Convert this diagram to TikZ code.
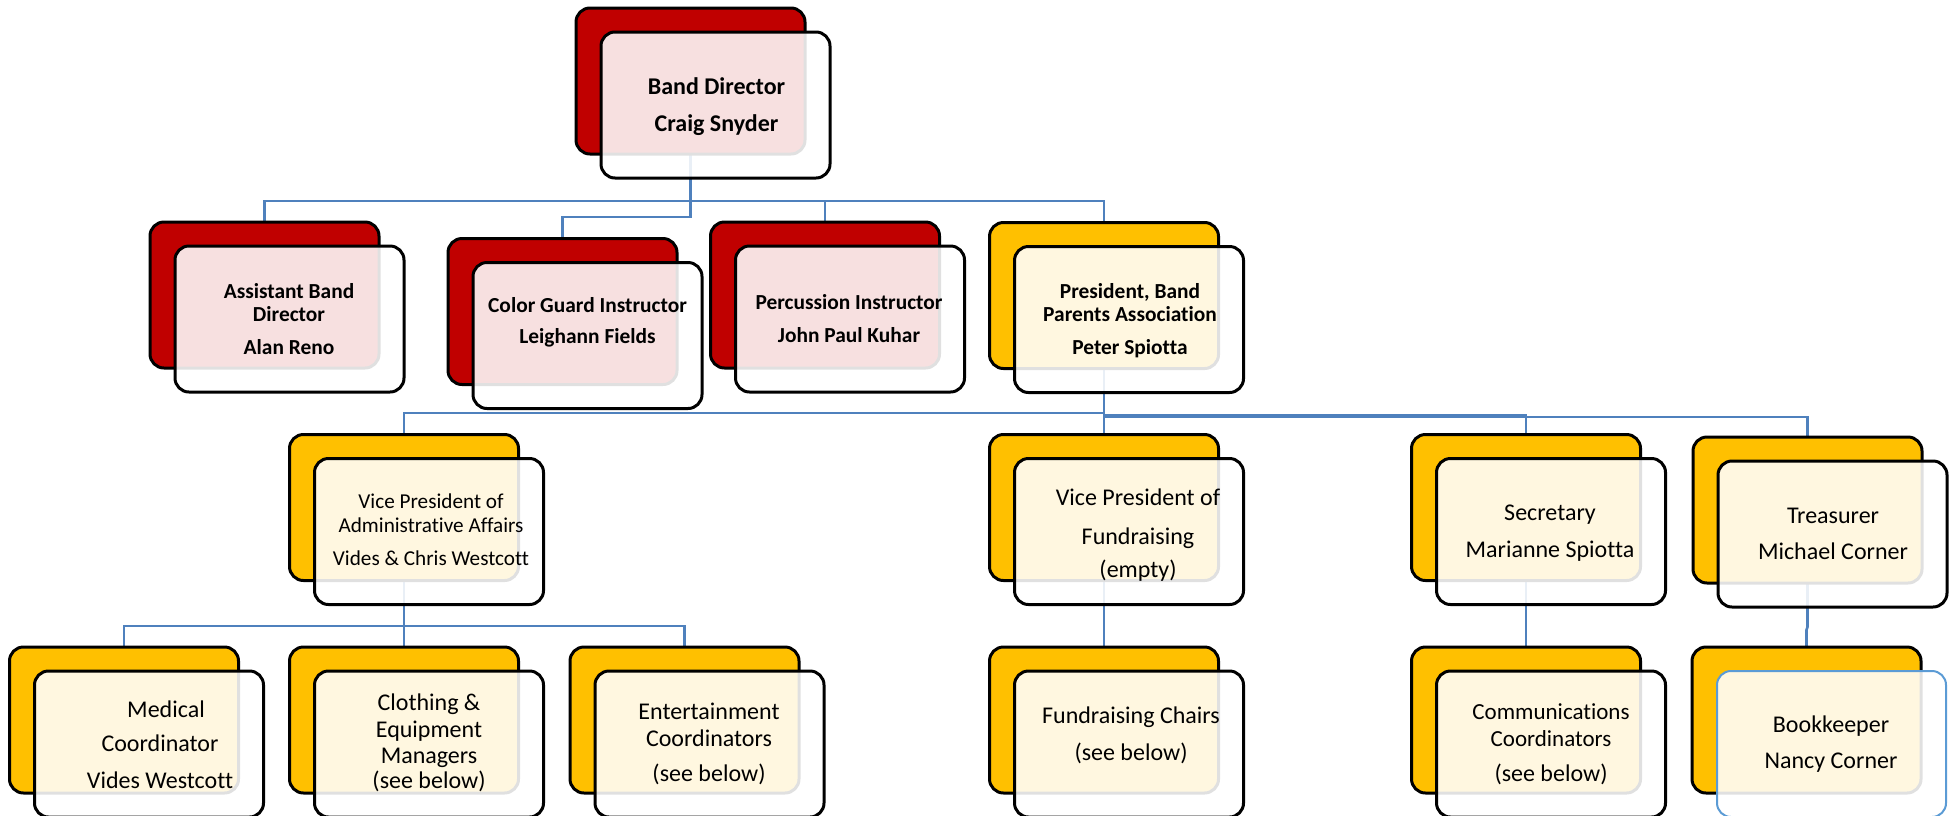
\documentclass[tikz,border=0pt]{standalone}
\usepackage{fontspec}
\setmainfont{Carlito}[Ligatures={NoCommon}]
\definecolor{bred}{HTML}{C00000}
\definecolor{byel}{HTML}{FFC000}
\definecolor{conn}{HTML}{4F81BD}
\definecolor{bkblue}{HTML}{5B9BD5}
\newcommand\orgbox[5]{%
  \node[backbox, fill=#4] (#1) at (#2,#3) {};
  \node[frontbox, #5] (#1f) at ([shift={(25,24)}]#1.center) {};}
\begin{document}
\begin{tikzpicture}[x=0.5pt,y=-0.5pt,
  backbox/.style={draw=black, line width=1.5pt, rounded corners=7pt,
    minimum width=114.5pt, minimum height=73pt, inner sep=0pt},
  frontbox/.style={draw=black, line width=1.5pt, rounded corners=7pt,
    minimum width=114.5pt, minimum height=73pt, inner sep=0pt,
    fill=white, fill opacity=0.88, draw opacity=1},
  link/.style={draw=conn, line width=1.3pt},
  tl/.style={anchor=base, inner sep=0pt},
  bA/.style={tl, font=\fontsize{12pt}{14pt}\selectfont\bfseries},
  bB/.style={tl, font=\fontsize{10.7pt}{13pt}\selectfont\bfseries},
  rA/.style={tl, font=\fontsize{12pt}{14pt}\selectfont},
  rB/.style={tl, font=\fontsize{10.6pt}{13pt}\selectfont},
  rC/.style={tl, font=\fontsize{11.5pt}{13pt}\selectfont}]
\useasboundingbox (0,0) rectangle (1958,815);
\coordinate (bus1) at (0,201);
\coordinate (jog1) at (0,217);
\coordinate (bus2) at (0,413);
\coordinate (bus2a) at (0,415);
\coordinate (bus2b) at (0,417);
\coordinate (bus3) at (0,626);
\coordinate (tj1) at (1807.5,627);
\coordinate (tj2) at (1806.5,630);
% box centres used by the connectors
\coordinate (bdc) at (690.5,81);
\coordinate (abc) at (264.5,295);
\coordinate (cgc) at (562.5,311.5);
\coordinate (pic) at (825,295);
\coordinate (prc) at (1104,295.5);
\coordinate (vac) at (404,507.5);
\coordinate (vfc) at (1104,507.5);
\coordinate (sec) at (1526,507.5);
\coordinate (trc) at (1807.5,510);
\coordinate (mdc) at (124,720);
\coordinate (clc) at (404,720);
\coordinate (enc) at (684.5,720);
\coordinate (fcc) at (1104,720);
\coordinate (ccc) at (1526,720);
\coordinate (bkc) at (1806.5,720);
% connectors
\draw[link] (abc) -- (abc |- bus1) -| (prc);
\draw[link] (pic) -- (pic |- bus1);
\draw[link] (bdc) -- (bdc |- jog1) -| (cgc);
\draw[link] (prc) -- (prc |- bus2) -| (vac);
\draw[link] (prc) -- (vfc);
\draw[link] (prc |- bus2a) -| (sec);
\draw[link] (prc |- bus2b) -| (trc);
\draw[link] (vac) -- (clc);
\draw[link] (mdc) -- (mdc |- bus3) -| (enc);
\draw[link] (vfc) -- (fcc);
\draw[link] (sec) -- (ccc);
\draw[link] (trc) -- (tj1) -- (tj2) -- (bkc);
% boxes
\orgbox{bd}{690.5}{81}{bred}{}
\orgbox{ab}{264.5}{295}{bred}{}
\orgbox{cg}{562.5}{311.5}{bred}{}
\orgbox{pi}{825}{295}{bred}{}
\orgbox{pr}{1104}{295.5}{byel}{}
\orgbox{va}{404}{507.5}{byel}{}
\orgbox{vf}{1104}{507.5}{byel}{}
\orgbox{se}{1526}{507.5}{byel}{}
\orgbox{tr}{1807.5}{510}{byel}{}
\orgbox{md}{124}{720}{byel}{}
\orgbox{cl}{404}{720}{byel}{}
\orgbox{en}{684.5}{720}{byel}{}
\orgbox{fc}{1104}{720}{byel}{}
\orgbox{cc}{1526}{720}{byel}{}
\orgbox{bk}{1806.5}{720}{byel}{draw=bkblue, line width=1pt}
% texts
\node[bA] (bdt1) at (716.5,94) {Band Director};
\node[bA] (bdt2) at (716.5,131) {Craig Snyder};
\node[bB] (abt1) at (289,298) {Assistant Band};
\node[bB] (abt2) at (289,321) {Director};
\node[bB] (abt3) at (289,354) {Alan Reno};
\node[bB] (cgt1) at (587.5,312) {Color Guard Instructor};
\node[bB] (cgt2) at (587.5,343) {Leighann Fields};
\node[bB] (pit1) at (849,309) {Percussion Instructor};
\node[bB] (pit2) at (849,342) {John Paul Kuhar};
\node[bB] (prt1) at (1130,298) {President, Band};
\node[bB] (prt2) at (1130,321) {Parents Association};
\node[bB] (prt3) at (1130,354) {Peter Spiotta};
\node[rB] (vat1) at (431,508) {Vice President of};
\node[rB] (vat2) at (431,532) {Administrative Affairs};
\node[rB] (vat3) at (431,565) {Vides \& Chris Westcott};
\node[rA] (vft1) at (1138,505) {Vice President of};
\node[rA] (vft2) at (1138,544) {Fundraising};
\node[rA] (vft3) at (1138,577) {(empty)};
\node[rA] (set1) at (1550,520) {Secretary};
\node[rA] (set2) at (1550,557) {Marianne Spiotta};
\node[rA] (trt1) at (1833,523) {Treasurer};
\node[rA] (trt2) at (1833,559) {Michael Corner};
\node[rA] (mdt1) at (166,717) {Medical};
\node[rA] (mdt2) at (160,751) {Coordinator};
\node[rA] (mdt3) at (160,788) {Vides Westcott};
\node[rA] (clt1) at (429,710) {Clothing \&};
\node[rA] (clt2) at (429,737) {Equipment};
\node[rA] (clt3) at (429,763) {Managers};
\node[rA] (clt4) at (429,788) {(see below)};
\node[rA] (ent1) at (709,719) {Entertainment};
\node[rA] (ent2) at (709,746) {Coordinators};
\node[rA] (ent3) at (709,781) {(see below)};
\node[rA] (fct1) at (1131,723) {Fundraising Chairs};
\node[rA] (fct2) at (1131,760) {(see below)};
\node[rC] (cct1) at (1551,719) {Communications};
\node[rC] (cct2) at (1551,746) {Coordinators};
\node[rA] (cct3) at (1551,781) {(see below)};
\node[rA] (bkt1) at (1831,732) {Bookkeeper};
\node[rA] (bkt2) at (1831,768) {Nancy Corner};
\end{tikzpicture}
\end{document}
